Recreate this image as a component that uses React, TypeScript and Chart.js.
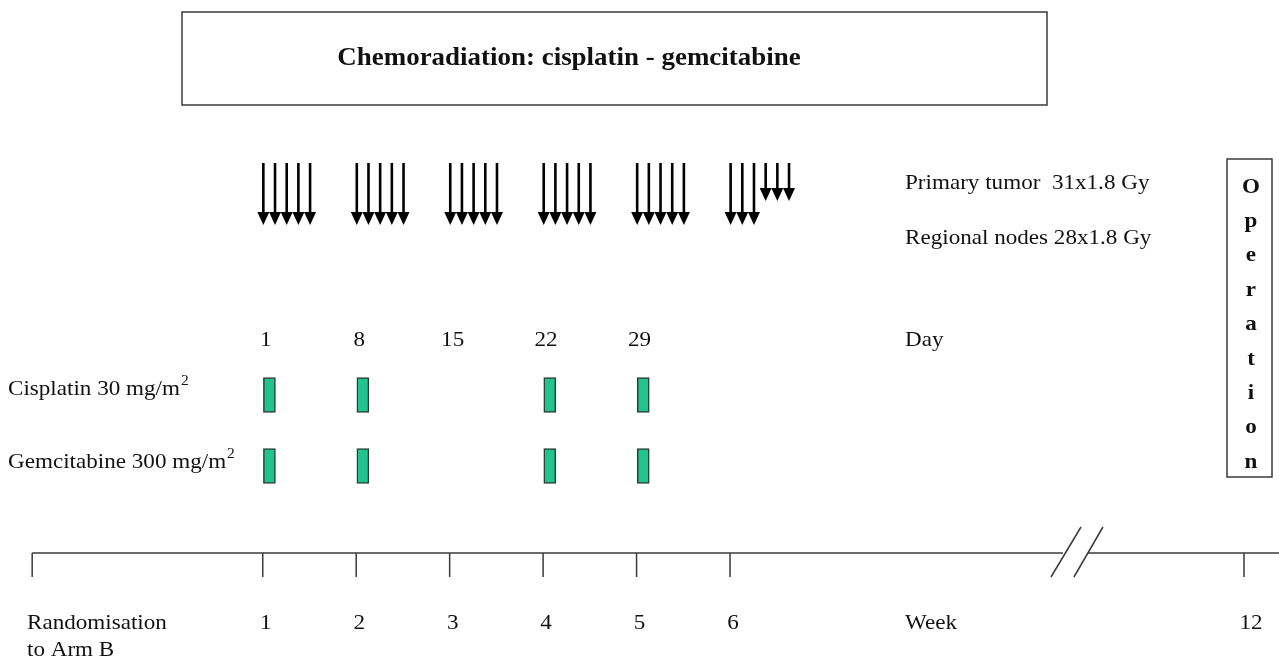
import React, { useEffect, useRef } from "react";
import { Chart, registerables } from "chart.js";

Chart.register(...registerables);

// ---------------- data ----------------
const titleText = "Chemoradiation: cisplatin - gemcitabine";
const dayTickLabels = ["1", "8", "15", "22", "29"];
const dayTickValues = [1, 8, 15, 22, 29];
const cisplatinDays = [1, 8, 22, 29];
const gemcitabineDays = [1, 8, 22, 29];
const weekLabels = ["1", "2", "3", "4", "5", "6", "12"];
const weekTickDays = [1, 8, 15, 22, 29, 36, 74.5]; // week 12 sits after the axis break
const randomisationDay = -16.27;
const radiationWeekStarts = [1, 8, 15, 22, 29, 36];
const bothFieldFractions = [5, 5, 5, 5, 5, 3]; // primary tumor + regional nodes
const boostFractions = [0, 0, 0, 0, 0, 3]; // primary tumor only
const radiationLegend = ["Primary tumor  31x1.8 Gy", "Regional nodes 28x1.8 Gy"];
const drugLabels = ["Cisplatin 30 mg/m", "Gemcitabine 300 mg/m"];
const operationLetters = ["O", "p", "e", "r", "a", "t", "i", "o", "n"];
const axisBreakDays = [60.94, 62.81];

// ---------------- layout ----------------
const W = 1279;
const H = 660;
const X_MIN = -18.68;
const X_MAX = 77.12;
const ARROW_GAP = 0.875; // days between drawn fraction arrows
const ROW_CIS = 395;
const ROW_GEM = 466;
const ROW_TIMELINE = 553;
const SERIF = "'Liberation Serif', 'Times New Roman', serif";
const SX = 1.1;
const INK = "#111111";
const LINE = "#3a3a3a";
const GREEN = "#21c48e";

function stretchedText(
  ctx: CanvasRenderingContext2D,
  text: string,
  x: number,
  y: number,
  font: string,
  align: CanvasTextAlign = "left",
  sx: number = SX
) {
  ctx.save();
  ctx.font = font;
  ctx.fillStyle = INK;
  ctx.textBaseline = "middle";
  ctx.textAlign = align;
  ctx.translate(x, y);
  ctx.scale(sx, 1);
  ctx.fillText(text, 0, 0);
  const w = ctx.measureText(text).width * sx;
  ctx.restore();
  return w;
}

function arrow(ctx: CanvasRenderingContext2D, x: number, top: number, tip: number) {
  const headH = 13;
  const half = 6;
  ctx.beginPath();
  ctx.moveTo(x, top);
  ctx.lineTo(x, tip - headH + 1);
  ctx.lineWidth = 2.6;
  ctx.strokeStyle = "#000";
  ctx.stroke();
  ctx.beginPath();
  ctx.moveTo(x - half, tip - headH);
  ctx.lineTo(x + half, tip - headH);
  ctx.lineTo(x, tip);
  ctx.closePath();
  ctx.fillStyle = "#000";
  ctx.fill();
}

const diagramPlugin = {
  id: "diagram",
  beforeDraw(chart: any) {
    const ctx = chart.ctx;
    ctx.save();
    ctx.fillStyle = "#fff";
    ctx.fillRect(0, 0, chart.width, chart.height);
    ctx.restore();
  },
  afterDatasetsDraw(chart: any) {
    const ctx: CanvasRenderingContext2D = chart.ctx;
    const xs = chart.scales.x;
    const ys = chart.scales.y;
    const px = (d: number) => xs.getPixelForValue(d);
    const py = (v: number) => ys.getPixelForValue(v);

    // title box
    ctx.save();
    ctx.strokeStyle = LINE;
    ctx.lineWidth = 1.5;
    ctx.strokeRect(182, py(12), 865, py(105) - py(12));
    ctx.restore();
    stretchedText(ctx, titleText, 569, py(59), `bold 24.5px ${SERIF}`, "center", 1.1);

    // radiation fractions
    radiationWeekStarts.forEach((start, w) => {
      for (let i = 0; i < bothFieldFractions[w]; i++) {
        arrow(ctx, px(start + i * ARROW_GAP) + 0.6, py(163), py(225));
      }
      for (let j = 0; j < boostFractions[w]; j++) {
        arrow(ctx, px(start + (bothFieldFractions[w] + j) * ARROW_GAP) + 0.6, py(163), py(201));
      }
    });
    stretchedText(ctx, radiationLegend[0], 905, py(183), `21px ${SERIF}`);
    stretchedText(ctx, radiationLegend[1], 905, py(238), `21px ${SERIF}`);

    // day labels
    dayTickValues.forEach((d, i) => {
      stretchedText(ctx, dayTickLabels[i], px(d) + 3, py(340), `21px ${SERIF}`, "center");
    });
    stretchedText(ctx, "Day", 905, py(340), `21px ${SERIF}`);

    // drug labels with superscript
    [ROW_CIS - 6, ROW_GEM - 4].forEach((row, i) => {
      const w = stretchedText(ctx, drugLabels[i], 8, py(row), `21px ${SERIF}`);
      stretchedText(ctx, "2", 8 + w + 1, py(row - 8), `14px ${SERIF}`);
    });

    // axis break slashes
    const b0 = px(axisBreakDays[0]);
    const b1 = px(axisBreakDays[1]);
    ctx.save();
    ctx.strokeStyle = LINE;
    ctx.lineWidth = 1.5;
    ctx.beginPath();
    ctx.moveTo(b0 - 12, py(577));
    ctx.lineTo(b0 + 18, py(527));
    ctx.moveTo(b1 - 14, py(577));
    ctx.lineTo(b1 + 15, py(527));
    ctx.stroke();
    ctx.restore();

    // week labels
    weekTickDays.forEach((d, i) => {
      stretchedText(ctx, weekLabels[i], px(d) + (i === weekLabels.length - 1 ? 7 : 3), py(623), `21px ${SERIF}`, "center");
    });
    stretchedText(ctx, "Week", 905, py(623), `21px ${SERIF}`);
    stretchedText(ctx, "Randomisation", 27, py(623), `21px ${SERIF}`);
    stretchedText(ctx, "to Arm B", 27, py(650), `21px ${SERIF}`);

    // operation box
    ctx.save();
    ctx.strokeStyle = LINE;
    ctx.lineWidth = 1.5;
    ctx.strokeRect(1227, py(159), 45, py(477) - py(159));
    ctx.restore();
    operationLetters.forEach((ch, i) => {
      stretchedText(ctx, ch, 1251, py(187 + i * 34.4), `bold 22px ${SERIF}`, "center", 1.05);
    });
  },
};

export default function App() {
  const canvasRef = useRef<HTMLCanvasElement | null>(null);

  useEffect(() => {
    const canvas = canvasRef.current;
    if (!canvas) return;
    const barDataset = (label: string, days: number[], row: number) => ({
      type: "bar" as const,
      label,
      indexAxis: "y" as const,
      grouped: false,
      data: days.map((d) => ({ x: [d + 0.05, d + 0.95], y: row })),
      backgroundColor: GREEN,
      borderColor: "#2b3b33",
      borderWidth: 1.5,
      borderSkipped: false,
      barThickness: 35,
    });
    const chart = new Chart(canvas, {
      type: "bar",
      data: {
        datasets: [
          barDataset("Cisplatin", cisplatinDays, ROW_CIS),
          barDataset("Gemcitabine", gemcitabineDays, ROW_GEM),
          {
            type: "line",
            label: "timeline-a",
            data: [
              { x: randomisationDay, y: ROW_TIMELINE },
              { x: axisBreakDays[0], y: ROW_TIMELINE },
            ],
            borderColor: LINE,
            borderWidth: 1.5,
            pointRadius: 0,
          },
          {
            type: "line",
            label: "timeline-b",
            data: [
              { x: axisBreakDays[1], y: ROW_TIMELINE },
              { x: X_MAX, y: ROW_TIMELINE },
            ],
            borderColor: LINE,
            borderWidth: 1.5,
            pointRadius: 0,
          },
          {
            type: "scatter",
            label: "week ticks",
            data: [randomisationDay, ...weekTickDays].map((d) => ({ x: d, y: ROW_TIMELINE + 12 })),
            pointStyle: "line",
            rotation: 90,
            radius: 12,
            borderColor: LINE,
            borderWidth: 1.5,
          },
        ] as any,
      },
      options: {
        animation: false,
        responsive: false,
        events: [],
        layout: { padding: 0, autoPadding: false },
        clip: false,
        plugins: { legend: { display: false }, tooltip: { enabled: false } },
        scales: {
          x: {
            type: "linear",
            min: X_MIN,
            max: X_MAX,
            offset: false,
            beginAtZero: false,
            grace: 0,
            grid: { offset: false },
            display: false,
          },
          y: {
            type: "linear",
            min: 0,
            max: H,
            reverse: true,
            offset: false,
            beginAtZero: false,
            grace: 0,
            grid: { offset: false },
            display: false,
          },
        },
      } as any,
      plugins: [diagramPlugin],
    });
    return () => chart.destroy();
  }, []);

  return (
    <div style={{ position: "fixed", left: 0, top: 0, width: W, height: H, background: "#fff" }}>
      <canvas ref={canvasRef} width={W} height={H} style={{ display: "block" }} />
    </div>
  );
}
